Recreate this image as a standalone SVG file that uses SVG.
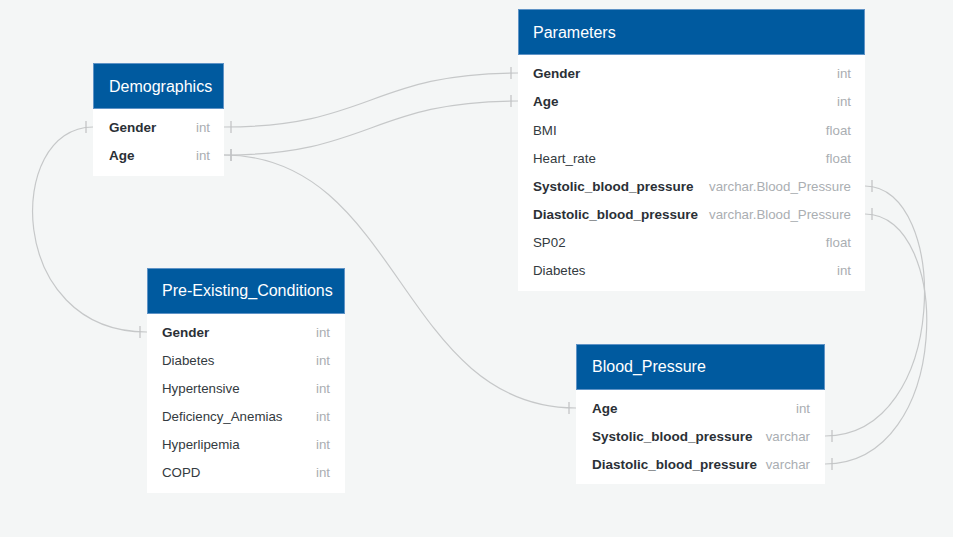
<svg xmlns="http://www.w3.org/2000/svg" width="953" height="537" viewBox="0 0 953 537">
<defs>
<style>
.bg{fill:#f4f6f6}
.hd{fill:#005a9f;stroke:#5f93c6;stroke-width:1}
.bd{fill:#ffffff}
.ttl{font-family:"Liberation Sans",Arial,sans-serif;font-size:16px;fill:#ffffff}
.fn{font-family:"Liberation Sans",Arial,sans-serif;font-size:13.3px;fill:#333a40}
.fk{font-weight:bold;font-size:13.5px;fill:#2b3036}
.ty{font-family:"Liberation Sans",Arial,sans-serif;font-size:13.3px;fill:#aaaeb2;text-anchor:end}
.cn{fill:none;stroke:#c6c8c9;stroke-width:1.2;marker-start:url(#one);marker-end:url(#one)}
</style>
<marker id="one" markerUnits="userSpaceOnUse" markerWidth="20" markerHeight="20" viewBox="0 0 20 20" refX="10" refY="10" orient="auto-start-reverse" overflow="visible">
<path d="M3,4 V16" stroke="#c0c2c3" stroke-width="1.2" fill="none"/>
</marker>
</defs>
<rect class="bg" x="0" y="0" width="953" height="537"/>

<g id="connectors">
<path class="cn" d="M224,127 C371,127 371,73 518,73"/>
<path class="cn" d="M224,155 C371,155 371,101 518,101"/>
<path class="cn" d="M224,155 C400,155 400,408 576,408"/>
<path class="cn" d="M93,127 C5,127 5,332 147,332"/>
<path class="cn" d="M865,186 C950,186 950,436 825,436"/>
<path class="cn" d="M865,214 C953,214 953,464 825,464"/>
</g>

<g id="Demographics">
<rect class="bd" x="93" y="108" width="131" height="68"/>
<rect class="hd" x="93.5" y="63.5" width="130" height="45"/>
<text class="ttl" x="109" y="92">Demographics</text>
<text class="fn fk" x="109" y="132">Gender</text><text class="ty" x="210" y="132">int</text>
<text class="fn fk" x="109" y="160">Age</text><text class="ty" x="210" y="160">int</text>
</g>

<g id="Parameters">
<rect class="bd" x="518" y="54" width="347" height="237"/>
<rect class="hd" x="518.5" y="9.5" width="346" height="45"/>
<text class="ttl" x="533" y="38">Parameters</text>
<text class="fn fk" x="533" y="78">Gender</text><text class="ty" x="851" y="78">int</text>
<text class="fn fk" x="533" y="106">Age</text><text class="ty" x="851" y="106">int</text>
<text class="fn" x="533" y="135">BMI</text><text class="ty" x="851" y="135">float</text>
<text class="fn" x="533" y="163">Heart_rate</text><text class="ty" x="851" y="163">float</text>
<text class="fn fk" x="533" y="191">Systolic_blood_pressure</text><text class="ty" x="851" y="191">varchar.Blood_Pressure</text>
<text class="fn fk" x="533" y="219">Diastolic_blood_pressure</text><text class="ty" x="851" y="219">varchar.Blood_Pressure</text>
<text class="fn" x="533" y="247">SP02</text><text class="ty" x="851" y="247">float</text>
<text class="fn" x="533" y="275">Diabetes</text><text class="ty" x="851" y="275">int</text>
</g>

<g id="Pre-Existing_Conditions">
<rect class="bd" x="147" y="313" width="198" height="180"/>
<rect class="hd" x="147.5" y="268.5" width="197" height="45"/>
<text class="ttl" x="162" y="296">Pre-Existing_Conditions</text>
<text class="fn fk" x="162" y="337">Gender</text><text class="ty" x="330" y="337">int</text>
<text class="fn" x="162" y="365">Diabetes</text><text class="ty" x="330" y="365">int</text>
<text class="fn" x="162" y="393">Hypertensive</text><text class="ty" x="330" y="393">int</text>
<text class="fn" x="162" y="421">Deficiency_Anemias</text><text class="ty" x="330" y="421">int</text>
<text class="fn" x="162" y="449">Hyperlipemia</text><text class="ty" x="330" y="449">int</text>
<text class="fn" x="162" y="477">COPD</text><text class="ty" x="330" y="477">int</text>
</g>

<g id="Blood_Pressure">
<rect class="bd" x="576" y="389" width="249" height="95"/>
<rect class="hd" x="576.5" y="344.5" width="248" height="45"/>
<text class="ttl" x="592" y="372">Blood_Pressure</text>
<text class="fn fk" x="592" y="413">Age</text><text class="ty" x="810" y="413">int</text>
<text class="fn fk" x="592" y="441">Systolic_blood_pressure</text><text class="ty" x="810" y="441">varchar</text>
<text class="fn fk" x="592" y="469">Diastolic_blood_pressure</text><text class="ty" x="810" y="469">varchar</text>
</g>
</svg>
